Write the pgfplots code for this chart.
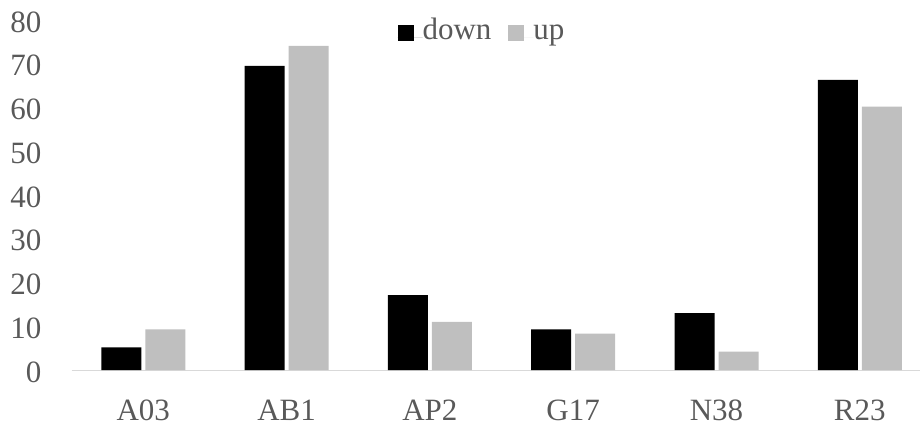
\documentclass[border=0pt]{standalone}
\usepackage{pgfplots}
\pgfplotsset{compat=1.18}
\usepackage{fontspec}
\setmainfont{Liberation Serif}
\definecolor{txt}{HTML}{595959}
\definecolor{upgray}{HTML}{BFBFBF}
\definecolor{axgray}{HTML}{D9D9D9}
\newcommand{\chartfont}{\fontsize{31bp}{36bp}\selectfont}

\begin{document}
\begin{tikzpicture}
\begin{axis}[
    at={(71.6bp,59bp)}, anchor=south west,
    scale only axis,
    width=848.4bp, height=350bp,
    xmin=-0.5, xmax=5.42,
    ymin=0, ymax=80,
    ytick={0,10,...,80},
    xtick=data,
    xticklabels={A03,AB1,AP2,G17,N38,R23},
    ybar=4bp, bar width=40bp,
    axis lines=left,
    x axis line style={draw=axgray, line width=1pt, -},
    y axis line style={draw=none},
    tick style={draw=none},
    clip=false,
    /pgf/number format/assume math mode=true,
    tick label style={font=\chartfont, text=txt, inner sep=0pt},
    yticklabel style={anchor=east, xshift=-28bp, yshift=-2bp},
    xticklabel style={anchor=north, yshift=-28bp},
    legend columns=2,
    legend style={at={(0.4826,0.962)}, anchor=center, draw=none, fill=none,
        font=\chartfont, text=txt,
        /tikz/every even column/.append style={column sep=17bp},
        nodes={inner sep=0pt, text=txt, text height=0.7em, text depth=0.22em}},
    legend image code/.code={\fill[#1] (0bp,-4bp) rectangle (16bp,12bp); \path (0bp,0bp) -- (25bp,0bp);},
]
\addplot[fill=black, draw=none] coordinates {(0,5.2) (1,69.5) (2,17.1) (3,9.3) (4,13.0) (5,66.3)};
\addplot[fill=upgray, draw=none] coordinates {(0,9.3) (1,74.1) (2,11.0) (3,8.3) (4,4.2) (5,60.2)};
\legend{down,up}
\end{axis}
\pgfresetboundingbox
\path[use as bounding box] (0,0) rectangle (920bp,429bp);
\end{tikzpicture}
\end{document}
